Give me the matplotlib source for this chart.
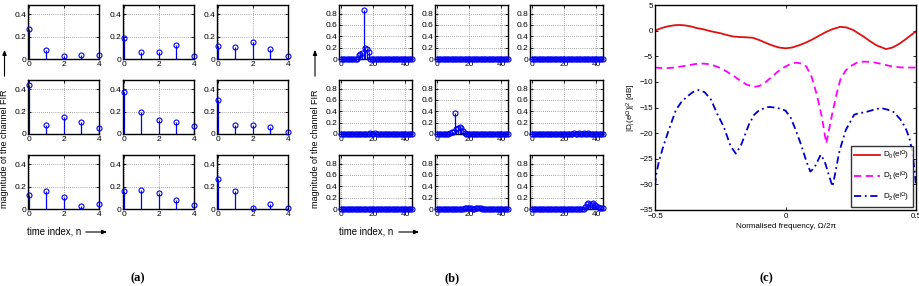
import numpy as np
import matplotlib
matplotlib.use("Agg")
import matplotlib.pyplot as plt

plt.rcParams['font.family'] = ['Liberation Sans', 'DejaVu Sans']
plt.rcParams['mathtext.fontset'] = 'custom'
plt.rcParams['mathtext.rm'] = 'Liberation Sans'
plt.rcParams['mathtext.it'] = 'Liberation Sans:italic'

# ---------------- data: panel (a), 5-tap channel FIR magnitudes ----------------
n_a = [0, 1, 2, 3, 4]
a_h11 = [0.266, 0.083, 0.024, 0.033, 0.036]
a_h12 = [0.186, 0.059, 0.062, 0.130, 0.027]
a_h13 = [0.118, 0.109, 0.151, 0.086, 0.024]
a_h21 = [0.440, 0.077, 0.154, 0.104, 0.056]
a_h22 = [0.379, 0.198, 0.124, 0.107, 0.068]
a_h23 = [0.305, 0.077, 0.077, 0.065, 0.018]
a_h31 = [0.127, 0.163, 0.112, 0.030, 0.041]
a_h32 = [0.160, 0.175, 0.142, 0.077, 0.036]
a_h33 = [0.269, 0.163, 0.006, 0.041, 0.009]

# ---------------- data: panel (b), 45-tap global FIR (non-zero taps) ----------------
n_b_len = 45
b_h11_idx = [11, 12, 13, 14, 15, 16, 17]
b_h11_val = [0.07, 0.09, 0.10, 0.86, 0.19, 0.18, 0.13]
b_h12_idx, b_h12_val = [], []
b_h13_idx, b_h13_val = [], []
b_h21_idx = [15, 18, 21, 24]
b_h21_val = [0.008, 0.01, 0.01, 0.008]
b_h22_idx = [8, 9, 10, 11, 12, 13, 14, 15, 16, 17]
b_h22_val = [0.02, 0.03, 0.04, 0.37, 0.08, 0.10, 0.12, 0.11, 0.05, 0.02]
b_h23_idx = [26, 29, 32, 35]
b_h23_val = [0.01, 0.015, 0.012, 0.01]
b_h31_idx, b_h31_val = [], []
b_h32_idx = [17, 18, 19, 20, 21, 24, 25, 26, 27]
b_h32_val = [0.01, 0.02, 0.025, 0.02, 0.01, 0.015, 0.02, 0.02, 0.01]
b_h33_idx = [33, 34, 35, 36, 37, 38, 39, 40, 41, 42, 43, 44]
b_h33_val = [0.03, 0.09, 0.10, 0.07, 0.09, 0.10, 0.07, 0.05, 0.03, 0.02, 0.02, 0.02]

# ---------------- data: panel (c), spectra in dB ----------------
f_d0 = [-0.5, -0.475, -0.45, -0.425, -0.41, -0.39, -0.365, -0.34, -0.314, -0.3, -0.275,
        -0.25, -0.225, -0.2, -0.175, -0.15, -0.125, -0.1, -0.075, -0.05, -0.025, 0.0,
        0.025, 0.05, 0.075, 0.1, 0.125, 0.15, 0.175, 0.21, 0.235, 0.26, 0.3, 0.325,
        0.35, 0.385, 0.41, 0.435, 0.46, 0.48, 0.5]
d0 = [0.0, 0.5, 0.85, 1.05, 1.1, 1.05, 0.85, 0.5, 0.26, 0.05, -0.25,
      -0.5, -0.85, -1.15, -1.25, -1.3, -1.4, -1.85, -2.4, -2.9, -3.3, -3.45,
      -3.3, -2.9, -2.4, -1.8, -1.1, -0.4, 0.2, 0.75, 0.6, 0.1, -1.2, -2.1,
      -2.9, -3.6, -3.3, -2.6, -1.7, -0.9, -0.15]

f_d1 = [-0.5, -0.475, -0.45, -0.425, -0.4, -0.375, -0.35, -0.327, -0.3, -0.275, -0.25,
        -0.225, -0.2, -0.175, -0.15, -0.122, -0.1, -0.075, -0.05, -0.025, 0.0, 0.02,
        0.04, 0.06, 0.08, 0.1, 0.12, 0.14, 0.156, 0.17, 0.18, 0.195, 0.21, 0.23, 0.25,
        0.276, 0.3, 0.325, 0.35, 0.375, 0.4, 0.425, 0.45, 0.475, 0.5]
d1 = [-7.2, -7.3, -7.3, -7.2, -7.0, -6.8, -6.55, -6.4, -6.5, -6.8, -7.3,
      -8.0, -8.8, -9.7, -10.5, -11.0, -10.8, -10.0, -8.9, -7.8, -7.0, -6.5,
      -6.25, -6.4, -7.0, -9.0, -12.5, -17.0, -22.0, -18.5, -16.0, -12.5, -9.6, -7.8, -6.9,
      -6.2, -6.05, -6.1, -6.3, -6.6, -6.9, -7.1, -7.2, -7.2, -7.2]

f_d2 = [-0.5, -0.495, -0.485, -0.47, -0.45, -0.42, -0.4, -0.378, -0.355, -0.333, -0.31,
        -0.285, -0.263, -0.237, -0.21, -0.19, -0.17, -0.14, -0.12, -0.1, -0.07, -0.058,
        -0.03, 0.0, 0.02, 0.04, 0.06, 0.08, 0.095, 0.11, 0.135, 0.15, 0.165, 0.18, 0.19,
        0.205, 0.212, 0.231, 0.263, 0.276, 0.314, 0.34, 0.365, 0.39, 0.415, 0.44, 0.46,
        0.475, 0.485, 0.495, 0.5]
d2 = [-30.2, -28.0, -25.5, -22.9, -19.8, -15.5, -14.0, -12.9, -12.0, -11.6, -12.0,
      -13.5, -16.1, -18.7, -22.6, -24.0, -22.3, -18.3, -16.4, -15.5, -14.95, -14.9,
      -15.1, -15.6, -17.0, -19.5, -22.3, -25.5, -27.5, -26.8, -24.2, -25.5, -28.0, -30.4, -28.0,
      -23.9, -22.6, -19.4, -16.4, -16.2, -15.8, -15.4, -15.1, -15.4, -15.9, -17.3, -19.0,
      -21.0, -23.5, -27.5, -30.2]

legend_labels = [r"D$_0$(e$^{\mathrm{j}\Omega}$)", r"D$_1$(e$^{\mathrm{j}\Omega}$)",
                 r"D$_2$(e$^{\mathrm{j}\Omega}$)"]

BLUE = '#0000ff'
W, H = 920, 286
fig = plt.figure(figsize=(W / 100, H / 100), dpi=100)


def add_ax(x, y, w, h):
    return fig.add_axes([x / W, 1 - (y + h) / H, w / W, h / H])


def style(ax, fs=6.0):
    ax.tick_params(direction='in', top=True, right=True, length=2, width=0.6,
                   labelsize=fs, pad=1.5, colors='black')
    for s in ax.spines.values():
        s.set_linewidth(1.0)


def stem(ax, x, y):
    ml, sl, bl = ax.stem(x, y, linefmt='-', markerfmt='o', basefmt=' ')
    plt.setp(sl, color=BLUE, linewidth=0.9)
    plt.setp(ml, markerfacecolor='none', markeredgecolor=BLUE, markersize=3.6,
             markeredgewidth=0.8, clip_on=False, zorder=3)


rows_y = [5, 80, 155]
ah = 54

# ---------------- panel (a) ----------------
a_data = [[a_h11, a_h12, a_h13], [a_h21, a_h22, a_h23], [a_h31, a_h32, a_h33]]
a_cols = [28, 123, 217]
for r in range(3):
    for c in range(3):
        ax = add_ax(a_cols[c], rows_y[r], 71, ah)
        stem(ax, n_a, a_data[r][c])
        ax.set_xlim(-0.05, 4)
        ax.set_ylim(0, 0.485)
        ax.set_xticks([0, 2, 4])
        ax.set_yticks([0, 0.2, 0.4])
        ax.set_yticklabels(['0', '0.2', '0.4'])
        ax.grid(True, linestyle=(0, (1, 2)), color='0.35', linewidth=0.5)
        style(ax)

# ---------------- panel (b) ----------------
b_data = [[(b_h11_idx, b_h11_val), (b_h12_idx, b_h12_val), (b_h13_idx, b_h13_val)],
          [(b_h21_idx, b_h21_val), (b_h22_idx, b_h22_val), (b_h23_idx, b_h23_val)],
          [(b_h31_idx, b_h31_val), (b_h32_idx, b_h32_val), (b_h33_idx, b_h33_val)]]
b_cols = [339, 435, 530]
n_b = np.arange(n_b_len)
for r in range(3):
    for c in range(3):
        ax = add_ax(b_cols[c], rows_y[r], 73, ah)
        idx, val = b_data[r][c]
        h = np.zeros(n_b_len)
        h[idx] = val
        stem(ax, n_b, h)
        ax.set_xlim(-1.4, 44.1)
        ax.set_ylim(0, 0.95)
        ax.set_xticks([0, 20, 40])
        ax.set_yticks([0, 0.2, 0.4, 0.6, 0.8])
        ax.set_yticklabels(['0', '0.2', '0.4', '0.6', '0.8'])
        ax.grid(True, linestyle=(0, (1, 2)), color='0.35', linewidth=0.5)
        style(ax)

# labels for (a) and (b)
for x_lab, x_time, x_arrow_start, x_arrow_end in [(4.5, 27, 83, 110), (315, 339, 396, 422)]:
    fig.text(x_lab / W, 1 - 149 / H, 'magnitude of the channel FIR', rotation=90,
             ha='center', va='center', fontsize=6.5)
    fig.patches.append(matplotlib.patches.FancyArrowPatch(
        (x_lab / W, 1 - 79 / H), (x_lab / W, 1 - 47 / H), transform=fig.transFigure,
        arrowstyle='-|>,head_length=3,head_width=1.2', color='black', linewidth=0.8,
        mutation_scale=1))
    fig.text(x_time / W, 1 - 231 / H, 'time index, n', ha='left', va='center',
             fontsize=6.9)
    fig.patches.append(matplotlib.patches.FancyArrowPatch(
        (x_arrow_start / W, 1 - 232 / H), (x_arrow_end / W, 1 - 232 / H),
        transform=fig.transFigure,
        arrowstyle='-|>,head_length=3,head_width=1.2', color='black', linewidth=0.8,
        mutation_scale=1))

# ---------------- panel (c) ----------------
axc = add_ax(655, 5, 261, 205)
axc.plot(f_d0, d0, color='#e01010', linewidth=1.3, linestyle='-', label=legend_labels[0])
axc.plot(f_d1, d1, color='#ff00ff', linewidth=1.3, linestyle=(0, (4, 2.5)),
         label=legend_labels[1])
axc.plot(f_d2, d2, color='#0000cc', linewidth=1.3, linestyle=(0, (4, 2, 1, 2)),
         label=legend_labels[2])
axc.set_xlim(-0.5, 0.5)
axc.set_ylim(-35, 5)
axc.set_xticks([-0.5, 0, 0.5])
axc.set_xticklabels(['\u22120.5', '0', '0.5'])
axc.set_yticks([5, 0, -5, -10, -15, -20, -25, -30, -35])
style(axc, fs=5.8)
axc.tick_params(axis='x', pad=2.5)
axc.set_xlabel('Normalised frequency, \u03a9/2\u03c0', fontsize=5.8, labelpad=1.5)
axc.set_ylabel(r'|D$_i$(e$^{\mathrm{j}\Omega}$)|$^2$ [dB]', fontsize=5.8, labelpad=1)
leg = axc.legend(loc='lower right', fontsize=5.8, handlelength=3.2, frameon=True,
                 fancybox=False, edgecolor='black', borderaxespad=0.4,
                 labelspacing=0.9, borderpad=0.4, handletextpad=0.4)
leg.get_frame().set_linewidth(1.0)

# panel captions
for xc, lab in [(138, '(a)'), (452, '(b)'), (766, '(c)')]:
    fig.text(xc / W, 1 - 278 / H, lab, ha='center', va='center', fontsize=9,
             fontweight='bold', family='Liberation Serif')

fig.savefig('out.png', dpi=100)
